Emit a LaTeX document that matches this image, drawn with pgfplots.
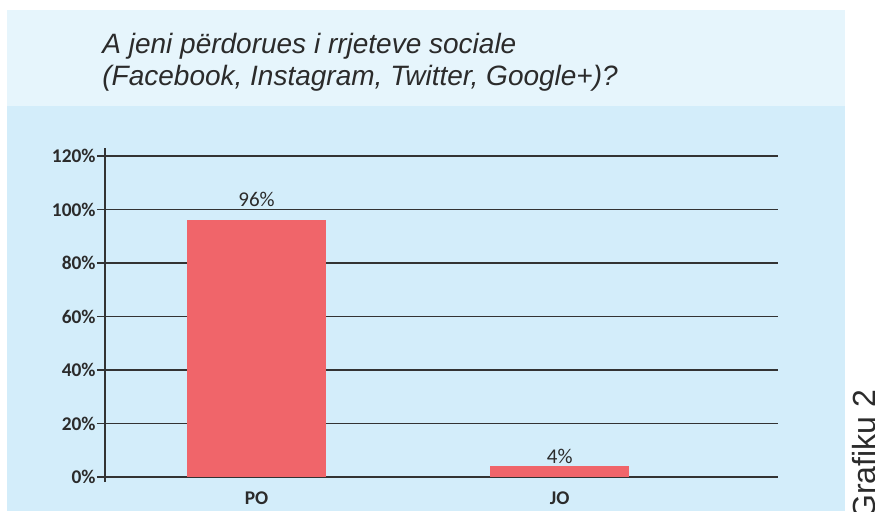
\documentclass[border=0pt]{standalone}
\usepackage{pgfplots}
\pgfplotsset{compat=1.18}
\usepackage{fontspec}
\setmainfont{Liberation Sans}
\newfontfamily\carlito{Carlito}
\definecolor{titlebg}{HTML}{E6F5FC}
\definecolor{chartbg}{HTML}{D3EDFA}
\definecolor{barred}{HTML}{F0656A}
\definecolor{txt}{HTML}{2B2B2B}
\definecolor{gridc}{HTML}{333333}
\begin{document}
\begin{tikzpicture}[x=0.5pt,y=0.5pt]
\useasboundingbox (0,0) rectangle (875,511);
\clip (0,0) rectangle (875,511);
\fill[white] (0,0) rectangle (875,511);
\fill[titlebg] (7,501) rectangle (845,405);
\fill[chartbg] (7,0) rectangle (845,405);
\node[anchor=base west, inner sep=0pt, text=txt,
      font=\itshape\fontsize{14}{16}\selectfont] at (102,458)
  {A jeni përdorues i rrjeteve sociale};
\node[anchor=base west, inner sep=0pt, text=txt,
      font=\itshape\fontsize{14}{16}\selectfont] at (102,426)
  {(Facebook, Instagram, Twitter, Google+)?};
\node[anchor=base west, rotate=90, inner sep=0pt, text=txt,
      font=\fontsize{16}{18}\selectfont] at (875,-9) {Grafiku 2};
\begin{axis}[
  at={(52.5pt,17pt)}, anchor=south west,
  scale only axis, width=336.5pt, height=160.5pt,
  xmin=-0.5, xmax=1.72, ymin=0, ymax=120,
  axis x line*=bottom, axis y line*=left,
  x axis line style={draw=none},
  y axis line style={gridc, line width=0.8pt, shorten <=-2.5pt, shorten >=-4pt},
  xtick={0,1}, xticklabels={PO,JO},
  xtick style={draw=none},
  ytick={0,20,40,60,80,100,120},
  yticklabels={0\%,20\%,40\%,60\%,80\%,100\%,120\%},
  tick align=outside, major tick length=4pt,
  ytick style={gridc, line width=0.8pt},
  ymajorgrids, grid style={gridc, line width=0.8pt},
  tick label style={font=\carlito\bfseries\fontsize{9.7}{10}\selectfont, text=txt},
  yticklabel style={inner sep=0pt, xshift=-0.5pt},
  ybar, bar width=69.5pt, bar shift=0pt,
  nodes near coords={\pgfmathprintnumber[assume math mode=true]{\pgfplotspointmeta}\%},
  every node near coord/.append style={font=\carlito\fontsize{10.5}{12}\selectfont, text=txt},
]
\addplot[fill=barred, draw=none, every node near coord/.append style={yshift=3pt}] coordinates {(0,96)};
\addplot[fill=barred, draw=none, every node near coord/.append style={yshift=-2pt}] coordinates {(1,4)};
\end{axis}
\end{tikzpicture}
\end{document}
